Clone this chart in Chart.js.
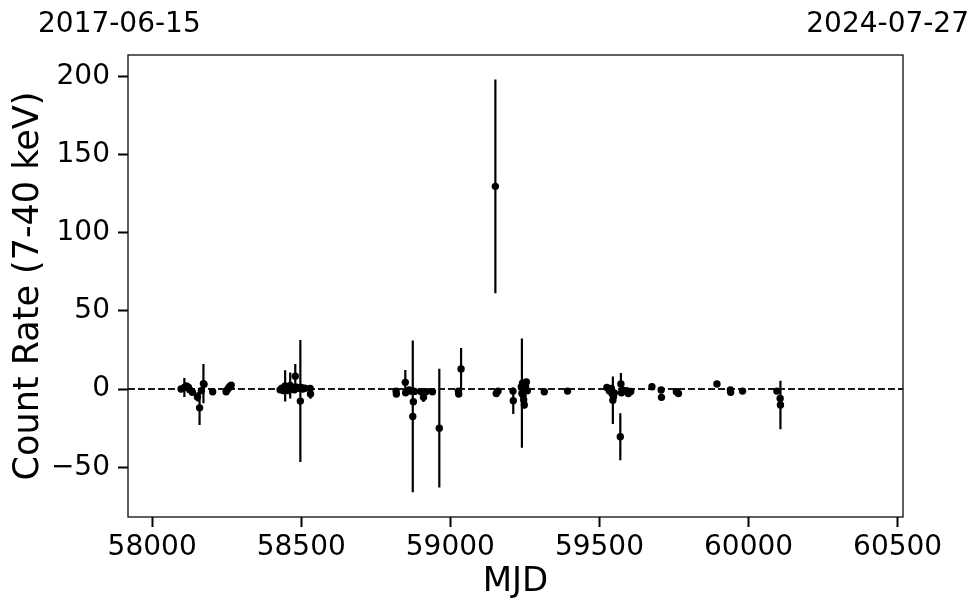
<!DOCTYPE html>
<html>
<head>
<meta charset="utf-8">
<script src="https://cdn.jsdelivr.net/npm/chart.js@4.4.1/dist/chart.umd.min.js"></script>
<style>
html,body{margin:0;padding:0;background:#fff;}
#wrap{width:980px;height:613px;position:relative;}
</style>
</head>
<body>
<div id="wrap"><canvas id="c" width="980" height="613"></canvas></div>
<script>
// ---- data ----
const mjd = [
  58097,58108,58115,58122,58126,58135,58152,58159,58165,58172,58174,58203,58248,58252,58256,58260,58265,
  58429,58435,58441,58446,58452,58457,58463,58468,58472,58477,58480,58485,58490,58497,58500,58505,58512,58530,58531,
  58818,58819,58849,58850,58862,58866,58872,58874,58876,58880,58902,58910,58918,58940,58963,59027,59028,59036,
  59151,59154,59160,59210,59211,59238,59240,59242,59244,59246,59248,59252,59255,59258,59315,59393,
  59525,59533,59540,59542,59545,59547,59550,59570,59572,59574,59577,59591,59597,59605,
  59676,59707,59708,59758,59765,59894,59939,59940,59980,60095,60106,60107
];
const rate = [
  0.0,1.0,2.0,1.0,-0.5,-2.0,-5.0,-12.0,-1.0,3.5,3.0,-1.7,-1.7,-0.5,0.5,1.5,2.5,
  -0.5,0.5,-1.0,2.0,0.0,-1.0,2.3,0.5,1.0,-0.5,8.2,1.2,0.5,-7.7,1.0,0.0,0.5,0.4,-3.2,
  -1.3,-3.2,4.3,-2.4,-0.6,-1.3,-1.0,-17.5,-8.1,-1.5,-1.7,-5.3,-1.7,-1.7,-25.0,-1.3,-3.2,12.9,
  129.6,-2.8,-1.3,-1.3,-7.5,1.5,-2.6,3.8,-4.0,-7.0,-10.2,2.0,4.5,-1.0,-1.7,-1.3,
  1.0,-1.0,0.4,-2.8,-7.2,-4.9,-2.5,-30.5,3.3,-2.4,-0.5,-1.0,-2.8,-1.5,
  1.5,-0.6,-5.3,-1.7,-2.8,3.2,-0.6,-2.1,-1.3,-1.3,-6.0,-10.2
];
const rateErr = [
  1.5,6,1.5,1.2,1.2,1.5,3,11,2,12.5,2,1.2,1.5,1.5,2,1.5,2,
  1.5,2,1.5,10,2,1.5,8.3,1.5,2,1.5,7.8,2,1.5,39,1.5,1.5,1.5,1.5,3,
  1.5,1.5,7.9,1.5,2,1.5,1.5,48.5,2,2,1.5,3,1.5,1.2,38,1.5,1.5,13.4,
  68.4,1.5,1.5,1.5,8.5,2,35,2,2,2,2,2,2,2,1.5,1.5,
  1.5,2,2,2,15.2,2,2,15,7,1.5,1.5,1.5,1.5,1.5,
  1.5,2,2,1.5,1.5,1.5,1.5,1.5,1.5,1.5,2,15.5
];
const xLimits = [57919, 60518];
const yLimits = [-81.8, 213.6];
const xTicks = [58000, 58500, 59000, 59500, 60000, 60500];
const yTicks = [-50, 0, 50, 100, 150, 200];
const topLabels = ['2017-06-15', '2024-07-27'];
const xTitle = 'MJD';
const yTitle = 'Count Rate (7-40 keV)';

const points = mjd.map((m, i) => ({x: m, y: rate[i], e: rateErr[i]}));
const FONT = 'DejaVu Sans';

const errorBars = {
  id: 'errorBars',
  beforeDatasetsDraw(chart) {
    const {ctx, chartArea, scales: {x, y}} = chart;
    ctx.save();
    ctx.beginPath();
    ctx.rect(chartArea.left, chartArea.top, chartArea.right - chartArea.left, chartArea.bottom - chartArea.top);
    ctx.clip();
    ctx.strokeStyle = '#000';
    ctx.lineWidth = 2.2;
    ctx.beginPath();
    points.forEach(p => {
      const px = x.getPixelForValue(p.x);
      ctx.moveTo(px, y.getPixelForValue(p.y - p.e));
      ctx.lineTo(px, y.getPixelForValue(p.y + p.e));
    });
    ctx.stroke();
    ctx.restore();
  }
};

const frame = {
  id: 'frame',
  afterDraw(chart) {
    const {ctx, chartArea: a} = chart;
    ctx.save();
    ctx.strokeStyle = '#000';
    ctx.lineWidth = 1.25;
    ctx.strokeRect(a.left, a.top, a.right - a.left, a.bottom - a.top);
    ctx.fillStyle = '#000';
    ctx.font = '28px "' + FONT + '"';
    ctx.textBaseline = 'alphabetic';
    ctx.textAlign = 'left';
    ctx.fillText(topLabels[0], 38, 32);
    ctx.textAlign = 'right';
    ctx.fillText(topLabels[1], 969, 32);
    ctx.restore();
  }
};

new Chart(document.getElementById('c'), {
  type: 'scatter',
  data: {
    datasets: [
      {
        type: 'line',
        data: [{x: xLimits[0], y: 0}, {x: xLimits[1], y: 0}],
        borderColor: '#1a1a1a',
        borderWidth: 2,
        borderDash: [7, 3],
        pointRadius: 0,
        fill: false,
        order: 2
      },
      {
        data: points,
        backgroundColor: '#000',
        borderColor: '#000',
        pointRadius: 3.7,
        pointBorderWidth: 0,
        order: 1
      }
    ]
  },
  options: {
    responsive: false,
    animation: false,
    events: [],
    layout: {padding: {left: 0, right: 77, top: 55, bottom: 0}},
    plugins: {legend: {display: false}, tooltip: {enabled: false}},
    scales: {
      x: {
        type: 'linear',
        min: xLimits[0], max: xLimits[1],
        afterBuildTicks: s => { s.ticks = xTicks.map(v => ({value: v})); },
        afterFit: s => { s.height = 96; },
        grid: {drawOnChartArea: false, drawTicks: true, tickLength: 10, tickWidth: 2, color: '#000'},
        border: {display: false},
        ticks: {color: '#000', font: {family: FONT, size: 28}, padding: 4, maxRotation: 0, autoSkip: false,
                callback: v => String(v)},
        title: {display: true, text: xTitle, color: '#000', font: {family: FONT, size: 34}, padding: {top: 0, bottom: 10}}
      },
      y: {
        type: 'linear',
        min: yLimits[0], max: yLimits[1],
        afterBuildTicks: s => { s.ticks = yTicks.map(v => ({value: v})); },
        afterFit: s => { s.width = 128; },
        grid: {drawOnChartArea: false, drawTicks: true, tickLength: 10, tickWidth: 2, color: '#000'},
        border: {display: false},
        ticks: {color: '#000', font: {family: FONT, size: 28}, padding: 8, autoSkip: false,
                callback: v => (v < 0 ? '\u2212' + Math.abs(v) : String(v))},
        title: {display: true, text: yTitle, color: '#000', font: {family: FONT, size: 35}, padding: {top: 8, bottom: 0}}
      }
    }
  },
  plugins: [errorBars, frame]
});
</script>
</body>
</html>
